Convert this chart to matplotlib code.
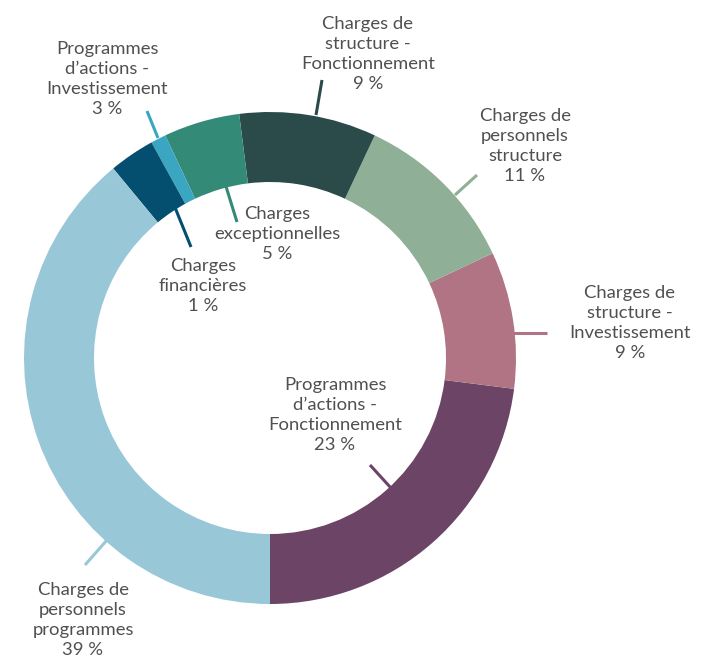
import matplotlib
matplotlib.use("Agg")
import matplotlib.pyplot as plt

# Data (counter-clockwise from the bottom)
categories = [
    "Programmes d'actions - Fonctionnement",
    "Charges de structure - Investissement",
    "Charges de personnels structure",
    "Charges de structure - Fonctionnement",
    "Charges exceptionnelles",
    "Programmes d'actions - Investissement",
    "Charges financières",
    "Charges de personnels programmes",
]
values = [23, 9, 11, 9, 5, 1, 3, 39]
label_texts = [
    "Programmes\nd’actions -\nFonctionnement\n23 %",
    "Charges de\nstructure -\nInvestissement\n9 %",
    "Charges de\npersonnels\nstructure\n11 %",
    "Charges de\nstructure -\nFonctionnement\n9 %",
    "Charges\nexceptionnelles\n5 %",
    "Programmes\nd’actions -\nInvestissement\n3 %",
    "Charges\nfinancières\n1 %",
    "Charges de\npersonnels\nprogrammes\n39 %",
]
colors = ["#6B4466", "#B07484", "#8FAF96", "#2B4A4A",
          "#338A77", "#3AA6C1", "#044E70", "#98C8D8"]

# Layout (pixel coordinates, y from top)
W, H = 724, 663
center_px = (270, 358)
radius = 246
ring_width = 70
text_pos = [(335, 415), (630, 323), (525, 146), (368, 54),
            (277, 234), (107, 79), (203, 286), (83, 620)]
leader = [((370, 465), (391, 488)), ((513, 333), (547, 333)),
          ((455, 195), (477, 175)), ((316, 115), (322, 80)),
          ((224, 180), (237, 222)), ((158, 138), (147, 111)),
          ((172, 200), (191, 247)), ((107, 540), (85, 565))]

fig = plt.figure(figsize=(W / 100, H / 100), dpi=100)
ax = fig.add_axes([0, 0, 1, 1])

ax.pie(values, colors=colors, startangle=-90, counterclock=True,
       center=(center_px[0], H - center_px[1]), radius=radius,
       wedgeprops=dict(width=ring_width, linewidth=0), frame=True)
ax.set_xlim(0, W)
ax.set_ylim(0, H)
ax.set_aspect("equal")
ax.axis("off")

for txt, (tx, ty), ((x1, y1), (x2, y2)), c in zip(label_texts, text_pos, leader, colors):
    ax.plot([x1, x2], [H - y1, H - y2], color=c, lw=2.2, solid_capstyle="butt")
    ax.text(tx, H - ty, txt, ha="center", va="center", fontsize=13.3,
            family="Lato", color="#505050", linespacing=1.33)

fig.savefig("out.png", dpi=100)
